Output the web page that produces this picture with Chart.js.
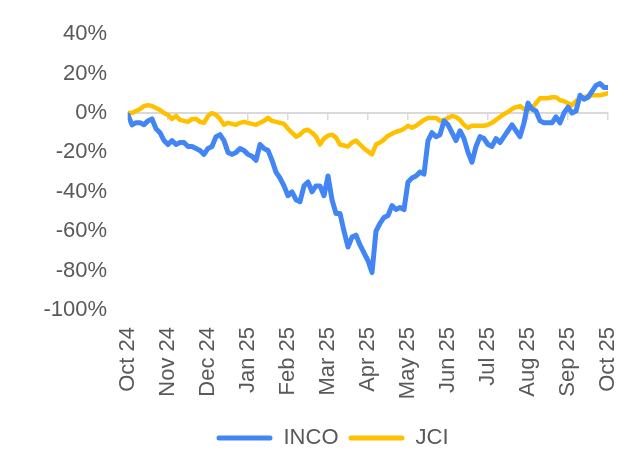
<!DOCTYPE html>
<html>
<head>
<meta charset="utf-8">
<script src="https://cdn.jsdelivr.net/npm/chart.js@4/dist/chart.umd.min.js"></script>
<style>
  html, body { margin: 0; padding: 0; background: #fff; }
  #wrap { width: 634px; height: 457px; }
</style>
</head>
<body>
<div id="wrap"><canvas id="perfChart"></canvas></div>
<script>
// ===== Data (cumulative return, %) =====
const monthLabels = ["Oct 24", "Nov 24", "Dec 24", "Jan 25", "Feb 25", "Mar 25", "Apr 25",
  "May 25", "Jun 25", "Jul 25", "Aug 25", "Sep 25", "Oct 25"];
const pointsPerMonth = 10;

const incoValues = [
  -1, -6, -5, -5, -6, -4, -3, -8, -10, -14,
  -16, -14, -16, -15, -15, -17, -17, -18, -19, -21,
  -18, -17, -12, -11, -14, -20, -21, -20, -18, -19,
  -21, -22, -24, -16, -18, -19, -24, -30, -33, -37,
  -42, -40, -44, -45, -37, -35, -40, -37, -37, -42,
  -32, -44, -51, -51, -60, -68, -63, -62, -67, -71,
  -75, -81, -60, -56, -53, -52, -47, -49, -48, -49,
  -35, -33, -32, -30, -31, -14, -10, -12, -11, -4,
  -6, -10, -14, -9, -13, -20, -25, -17, -12, -13,
  -16, -17, -13, -15, -12, -9, -6, -9, -12, -5,
  5, 2, 1, -4, -5, -5, -5, -2, -5, 0,
  3, 0, 1, 9, 7, 8, 11, 14, 15, 13,
  13
];

const jciValues = [
  0, 0, 1, 2, 3.5, 4, 3.5, 2.5, 1.5, 0,
  -1, -3, -1.5, -3.5, -4, -4.5, -3, -3, -4.5, -5,
  -1.5, 0, -1, -3, -6, -5, -5.5, -6, -5, -4.5,
  -5, -5.5, -6, -5, -4, -2.5, -4, -4.5, -5, -5.5,
  -8, -10, -12, -11, -9, -8.5, -10, -12, -16, -13,
  -11.5, -11, -12.5, -16, -16.5, -17, -15, -14, -16, -18,
  -19.5, -21, -16, -15, -13.5, -11.5, -10.5, -9.5, -9, -8,
  -6.5, -7.5, -6.5, -5, -3.5, -2.5, -2.5, -2.5, -4, -3.5,
  -2.5, -1.5, -2, -3.5, -6, -7.5, -6.5, -6.5, -6.5, -6.5,
  -6, -5, -3.5, -2, -0.5, 0.5, 2, 3, 3.5, 2,
  1.5, 2.5, 5, 7.5, 7.5, 7.5, 8, 8, 6.5, 6,
  5, 4, 6, 7.5, 8, 8.5, 9, 9, 9, 9.5,
  10
];

const yMin = -100, yMax = 40, yStep = 20;

const textColor = "#595959";
const axisColor = "#d9d9d9";
const fontFamily = "'Liberation Sans', Arial, sans-serif";

function toPoints(values) {
  return values.map((v, i) => ({ x: i / pointsPerMonth, y: v }));
}

// nudge the legend a little to the right, like the original
const legendShift = {
  id: "legendShift",
  afterLayout(chart) {
    chart.legend.left += 7;
    chart.legend.right += 7;
  }
};

// ===== Chart =====
const ctx = document.getElementById("perfChart").getContext("2d");
new Chart(ctx, {
  type: "line",
  data: {
    datasets: [
      {
        label: "INCO",
        data: toPoints(incoValues),
        borderColor: "#4285F4",
        backgroundColor: "#4285F4",
        borderWidth: 5,
        pointRadius: 0,
        tension: 0,
        borderJoinStyle: "round",
        borderCapStyle: "round"
      },
      {
        label: "JCI",
        data: toPoints(jciValues),
        borderColor: "#FFC000",
        backgroundColor: "#FFC000",
        borderWidth: 4.5,
        pointRadius: 0,
        tension: 0,
        borderJoinStyle: "round",
        borderCapStyle: "round"
      }
    ]
  },
  options: {
    responsive: true,
    maintainAspectRatio: false,
    animation: false,
    layout: { padding: { left: 43, right: 26, top: 30, bottom: -2 } },
    plugins: {
      tooltip: { enabled: false },
      legend: {
        position: "bottom",
        labels: {
          color: textColor,
          font: { family: fontFamily, size: 22 },
          boxWidth: 56,
          boxHeight: 5,
          padding: 10,
          useBorderRadius: true,
          borderRadius: 2.5,
          generateLabels: chart =>
            Chart.defaults.plugins.legend.labels.generateLabels(chart)
              .map(l => ({ ...l, lineWidth: 0 }))
        }
      }
    },
    scales: {
      x: {
        type: "linear",
        position: "bottom",
        min: 0,
        max: monthLabels.length - 1,
        grid: { display: false, drawTicks: false },
        border: { display: false },
        ticks: {
          stepSize: 1,
          autoSkip: false,
          minRotation: 90,
          maxRotation: 90,
          padding: 17,
          color: textColor,
          font: { family: fontFamily, size: 22 },
          callback: v => monthLabels[v]
        },
        afterFit: scale => {
          scale.height = 107;
          scale.paddingLeft = 0;
          scale.paddingRight = 0;
        }
      },
      // zero line with month tick marks
      x2: {
        type: "linear",
        position: { y: 0 },
        min: 0,
        max: monthLabels.length - 1,
        grid: {
          drawOnChartArea: false,
          drawTicks: true,
          tickLength: 6,
          color: axisColor,
          lineWidth: 1.5
        },
        border: { display: true, color: axisColor, width: 2 },
        ticks: { stepSize: 1, display: false },
        afterFit: scale => {
          scale.paddingLeft = 0;
          scale.paddingRight = 0;
        }
      },
      y: {
        min: yMin,
        max: yMax,
        grid: { display: false, drawTicks: false },
        border: { display: false },
        ticks: {
          stepSize: yStep,
          padding: 21,
          color: textColor,
          font: { family: fontFamily, size: 22 },
          callback: v => v + "%"
        },
        afterFit: scale => { scale.width = 85; }
      }
    }
  },
  plugins: [legendShift]
});
</script>
</body>
</html>
